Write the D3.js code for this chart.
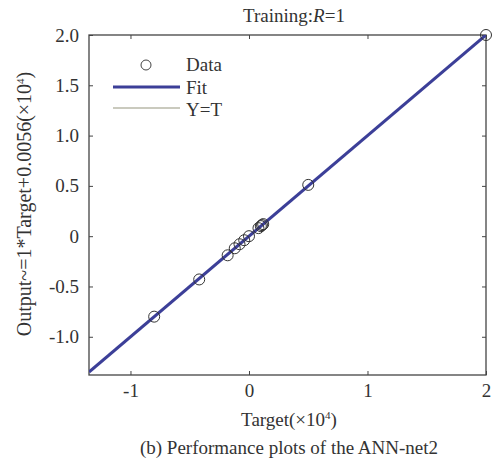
<!DOCTYPE html>
<html><head><meta charset="utf-8">
<script src="https://cdn.jsdelivr.net/npm/d3@7"></script>
<style>body{margin:0;background:#fff}svg text{font-family:"Liberation Serif","Times New Roman",serif;fill:#333}</style>
</head><body><svg id="c" width="499" height="461"></svg>
<script>
const targets = [-0.8, -0.42, -0.18, -0.12, -0.08, -0.04, 0.0, 0.08, 0.1, 0.11, 0.12, 0.5, 2.0];
const outputs = [-0.8, -0.43, -0.19, -0.12, -0.08, -0.04, 0.0, 0.08, 0.1, 0.11, 0.12, 0.51, 2.0];
const fitSlope = 1, fitIntercept = 0.0;
const xTicks = [-1, 0, 1, 2];
const xTickLabels = ["-1", "0", "1", "2"];
const yTicks = [-1.0, -0.5, 0, 0.5, 1.0, 1.5, 2.0];
const yTickLabels = ["-1.0", "-0.5", "0", "0.5", "1.0", "1.5", "2.0"];
const legendItems = ["Data", "Fit", "Y=T"];

const FS = 19;
const svg = d3.select("#c");
const m = {l: 89, r: 486, t: 35, b: 375};
const x = d3.scaleLinear().domain([-1.35, 2]).range([m.l, m.r]);
const y = d3.scaleLinear().domain([-1.38, 2]).range([m.b, m.t]);
const fitColor = "#3c3f98", ytColor = "#b8b8a8", axisColor = "#444";

const g = svg.append("g");
const ax = (sel) => { sel.select(".domain").remove(); sel.selectAll("line").attr("stroke", axisColor); };
g.append("g").attr("transform", `translate(0,${m.b})`)
  .call(d3.axisBottom(x).tickValues(xTicks).tickSize(-4).tickPadding(9).tickFormat((d,i)=>xTickLabels[i]))
  .call(ax).selectAll("text").attr("font-size", FS);
g.append("g").attr("transform", `translate(0,${m.t})`)
  .call(d3.axisTop(x).tickValues(xTicks).tickSize(-4).tickFormat("")).call(ax);
g.append("g").attr("transform", `translate(${m.l},0)`)
  .call(d3.axisLeft(y).tickValues(yTicks).tickSize(-4).tickPadding(10).tickFormat((d,i)=>yTickLabels[i]))
  .call(ax).selectAll("text").attr("font-size", FS);
g.append("g").attr("transform", `translate(${m.r},0)`)
  .call(d3.axisRight(y).tickValues(yTicks).tickSize(-4).tickFormat("")).call(ax);
g.append("rect").attr("x", m.l).attr("y", m.t).attr("width", m.r - m.l).attr("height", m.b - m.t)
  .attr("fill", "none").attr("stroke", axisColor).attr("stroke-width", 1.3);

svg.append("clipPath").attr("id", "clip").append("rect")
  .attr("x", m.l).attr("y", m.t).attr("width", m.r - m.l).attr("height", m.b - m.t);
const pg = svg.append("g").attr("clip-path", "url(#clip)");
const xd = x.domain();
pg.append("line").attr("x1", x(xd[0])).attr("y1", y(xd[0])).attr("x2", x(xd[1])).attr("y2", y(xd[1]))
  .attr("stroke", ytColor).attr("stroke-width", 1.5);
pg.append("line").attr("x1", x(xd[0])).attr("y1", y(fitSlope * xd[0] + fitIntercept))
  .attr("x2", x(xd[1])).attr("y2", y(fitSlope * xd[1] + fitIntercept))
  .attr("stroke", fitColor).attr("stroke-width", 3);
svg.selectAll("circle.d").data(targets).join("circle").attr("class", "d")
  .attr("cx", d => x(d)).attr("cy", (d, i) => y(outputs[i])).attr("r", 5.5)
  .attr("fill", "none").attr("stroke", "#333").attr("stroke-width", 1);

// legend
const lg = svg.append("g");
lg.append("circle").attr("cx", 146).attr("cy", 65).attr("r", 5).attr("fill", "none").attr("stroke", "#444").attr("stroke-width", 1);
lg.append("line").attr("x1", 113).attr("x2", 180).attr("y1", 87).attr("y2", 87).attr("stroke", fitColor).attr("stroke-width", 3);
lg.append("line").attr("x1", 113).attr("x2", 180).attr("y1", 108).attr("y2", 108).attr("stroke", ytColor).attr("stroke-width", 1.5);
legendItems.forEach((t, i) => lg.append("text").attr("x", 186).attr("y", 71 + i * 22.5).attr("font-size", FS).text(t));

// title
const tt = svg.append("text").attr("x", 294).attr("y", 22).attr("text-anchor", "middle").attr("font-size", FS);
tt.append("tspan").text("Training:");
tt.append("tspan").attr("font-style", "italic").text("R");
tt.append("tspan").text("=1");

// x label
const xl = svg.append("text").attr("x", 289).attr("y", 426).attr("text-anchor", "middle").attr("font-size", FS);
xl.append("tspan").text("Target(×10");
xl.append("tspan").attr("font-size", 11).attr("dy", -7).text("4");
xl.append("tspan").attr("dy", 7).text(")");
svg.append("text").attr("x", 289).attr("y", 454).attr("text-anchor", "middle").attr("font-size", FS)
  .text("(b) Performance plots of the ANN-net2");

// y label
const yl = svg.append("text").attr("transform", "translate(31,204) rotate(-90)").attr("text-anchor", "middle").attr("font-size", 20);
yl.append("tspan").text("Output~=1*Target+0.0056(×10");
yl.append("tspan").attr("font-size", 11).attr("dy", -7).text("4");
yl.append("tspan").attr("dy", 7).text(")");
</script></body></html>
